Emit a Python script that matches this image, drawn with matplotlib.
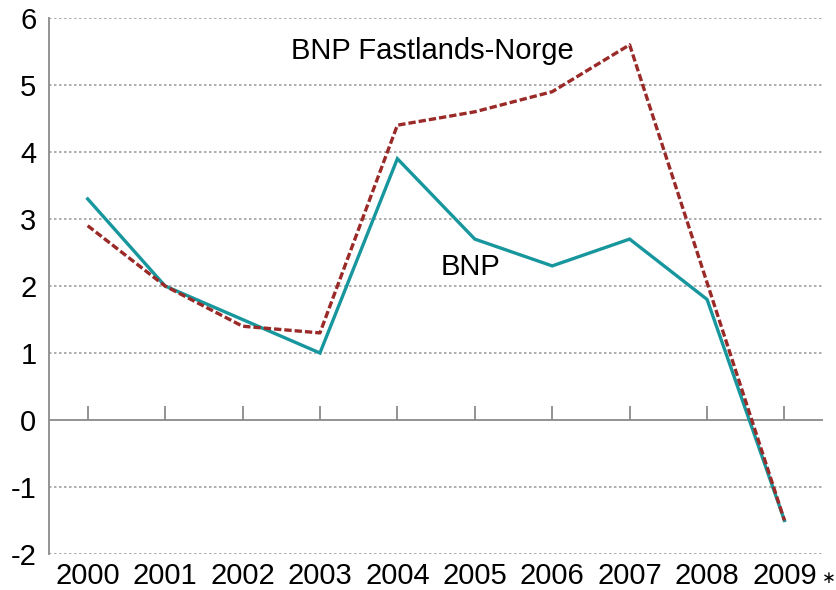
import numpy as np
import matplotlib
matplotlib.use('Agg')
import matplotlib.pyplot as plt

plt.rcParams['font.family'] = ['Liberation Sans', 'DejaVu Sans']

years = ['2000', '2001', '2002', '2003', '2004', '2005', '2006', '2007', '2008', '2009']
bnp = [3.3, 2.0, 1.5, 1.0, 3.9, 2.7, 2.3, 2.7, 1.8, -1.5]
bnp_fastland = [2.9, 2.0, 1.4, 1.3, 4.4, 4.6, 4.9, 5.6, 2.05, -1.5]
y_ticks = [-2, -1, 0, 1, 2, 3, 4, 5, 6]

teal = '#17979d'
darkred = '#9a2a28'
grey = '#8a8a8a'

fig = plt.figure(figsize=(8.37, 5.9), dpi=100)
ax = fig.add_axes([0.0585, 0.061, 0.925, 0.9085])

x = np.arange(len(years))

# gridlines (dotted), zero line solid
for yv in y_ticks:
    if yv == 0:
        ax.axhline(yv, color=grey, lw=1.3, zorder=1)
    else:
        ax.axhline(yv, color='#a0a0a0', lw=1.2, ls=(0, (1.5, 1.5)), zorder=1)

# small tick marks sticking up from the zero line
ax.vlines(x, 0, 0.21, color=grey, lw=1.3, zorder=1)

ax.plot(x, bnp, color=teal, lw=2.4, solid_joinstyle='miter', zorder=3)
ax.plot(x, bnp_fastland, color=darkred, lw=2.4, ls=(0, (2.2, 0.9)), zorder=4)

ax.set_xlim(-0.5, len(years) - 0.5)
ax.set_ylim(-2, 6)
ax.set_yticks(y_ticks)
ax.set_yticklabels([str(v) for v in y_ticks], fontsize=21)
ax.set_xticks(x)
ax.set_xticklabels(years, fontsize=21)
ax.tick_params(axis='x', length=0, pad=6)
ax.tick_params(axis='y', length=0, pad=9)

for s in ['top', 'right', 'bottom']:
    ax.spines[s].set_visible(False)
ax.spines['left'].set_color(grey)
ax.spines['left'].set_linewidth(1.3)

# asterisk after last year
ax.annotate('\u2217', xy=(x[-1], -2), xytext=(32, -17), textcoords='offset points',
            fontsize=12, ha='center', va='center', family='DejaVu Sans',
            annotation_clip=False)

ax.text(4.45, 5.5, 'BNP Fastlands-Norge', fontsize=21, ha='center', va='center')
ax.text(4.95, 2.28, 'BNP', fontsize=21, ha='center', va='center')

fig.savefig('out.png', dpi=100)
